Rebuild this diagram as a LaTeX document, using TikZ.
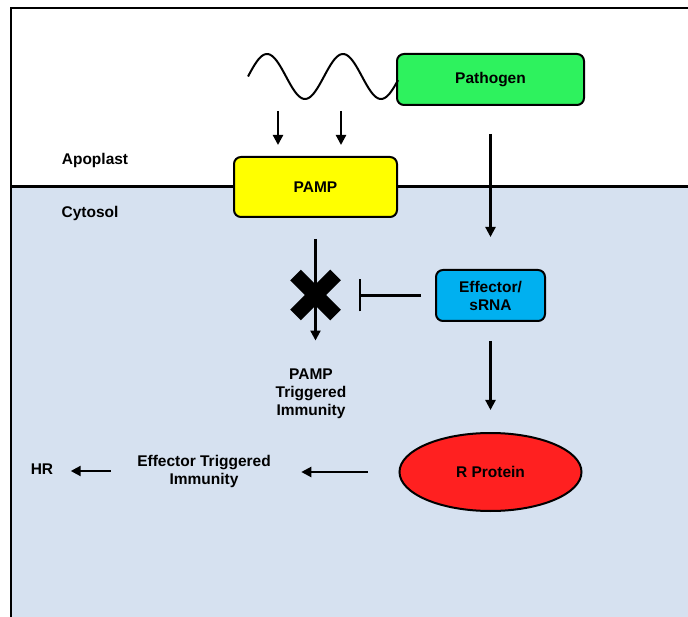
\documentclass[tikz,border=0pt]{standalone}
\usepackage{fontspec}
\setmainfont{Liberation Sans}
\usepackage{tikz}
\usetikzlibrary{shapes.geometric,arrows.meta,calc}

\begin{document}
\begin{tikzpicture}[x=1pt,y=-1pt,font=\bfseries\fontsize{15.5}{18}\selectfont,
  box/.style={draw,line width=2pt,rounded corners=7pt,align=center},
  arr/.style={line width=2.2pt,-{Triangle[length=10pt,width=10pt]}}]
\definecolor{cytoBlue}{HTML}{D6E1F0}
\definecolor{pathGreen}{HTML}{2EF25E}
\definecolor{pampYellow}{HTML}{FFFF00}
\definecolor{effBlue}{HTML}{00B0F0}
\definecolor{protRed}{HTML}{FF2020}
\useasboundingbox (0,0) rectangle (688,617);
% cell
\fill[cytoBlue] (11,187) rectangle (688,617);
\draw[line width=2pt] (688,8) -- (11,8) -- (11,617);
\draw[line width=3pt] (11,187) -- (688,187);
\node (apo) at (95,160) {Apoplast};
\node (cyto) at (90,213) {Cytosol};
% boxes
\node[box,fill=pathGreen,minimum width=187pt,minimum height=51pt] (pathogen) at (490.5,79.5) {Pathogen};
\node[box,fill=pampYellow,minimum width=163pt,minimum height=60pt] (pamp) at (315.5,187) {PAMP};
\node[box,fill=effBlue,minimum width=109pt,minimum height=51pt] (effector) at (490.5,295.5) {Effector/\\sRNA};
\node[ellipse,draw,line width=2pt,fill=protRed,minimum width=182pt,minimum height=78pt] (rprot) at (490.5,472) {R Protein};
\node[align=center] (pti) at (311,394) {PAMP\\Triggered\\Immunity};
\node[align=center] (eti) at (204,471) {Effector Triggered\\Immunity};
\node (hr) at (42,469) {HR};
% wave
\draw[line width=2pt] plot[domain=248:398,samples=90] (\x,{76.5-22.5*sin((\x-248)*4.7368)});
\coordinate (w1) at (278,111);
\coordinate (w2) at (341,111);
\foreach \w in {w1,w2}
  \draw[arr] (\w) -- ($(\w)+(0,34)$);
% arrows
\draw[arr] ($(pathogen.south)+(0,28)$) -- ($(effector.north)+(0,-32)$);
\draw[arr] ($(effector.south)+(0,19)$) -- ($(rprot.north)+(0,-22)$);
\draw[arr] ($(pamp.south)+(0,21)$) -- ($(pamp.south |- pti.north)+(0,-25)$);
\draw[arr] ($(rprot.west)+(-31,0)$) -- ($(eti.east |- rprot.west)+(27,0)$);
\draw[arr] ($(eti.west)+(-23,0)$) -- ($(hr.east |- eti.west)+(14,0)$);
% block
\coordinate (block) at (315.5,295);
\draw[line width=15pt] ($(block)+(-20,-20)$) -- ($(block)+(20,20)$);
\draw[line width=15pt] ($(block)+(-20,20)$) -- ($(block)+(20,-20)$);
\draw[line width=2.2pt,-{Bar[width=32pt]}] ($(effector.west)+(-14,0)$) -- ($(block |- effector.west)+(43,0)$);
\end{tikzpicture}
\end{document}
